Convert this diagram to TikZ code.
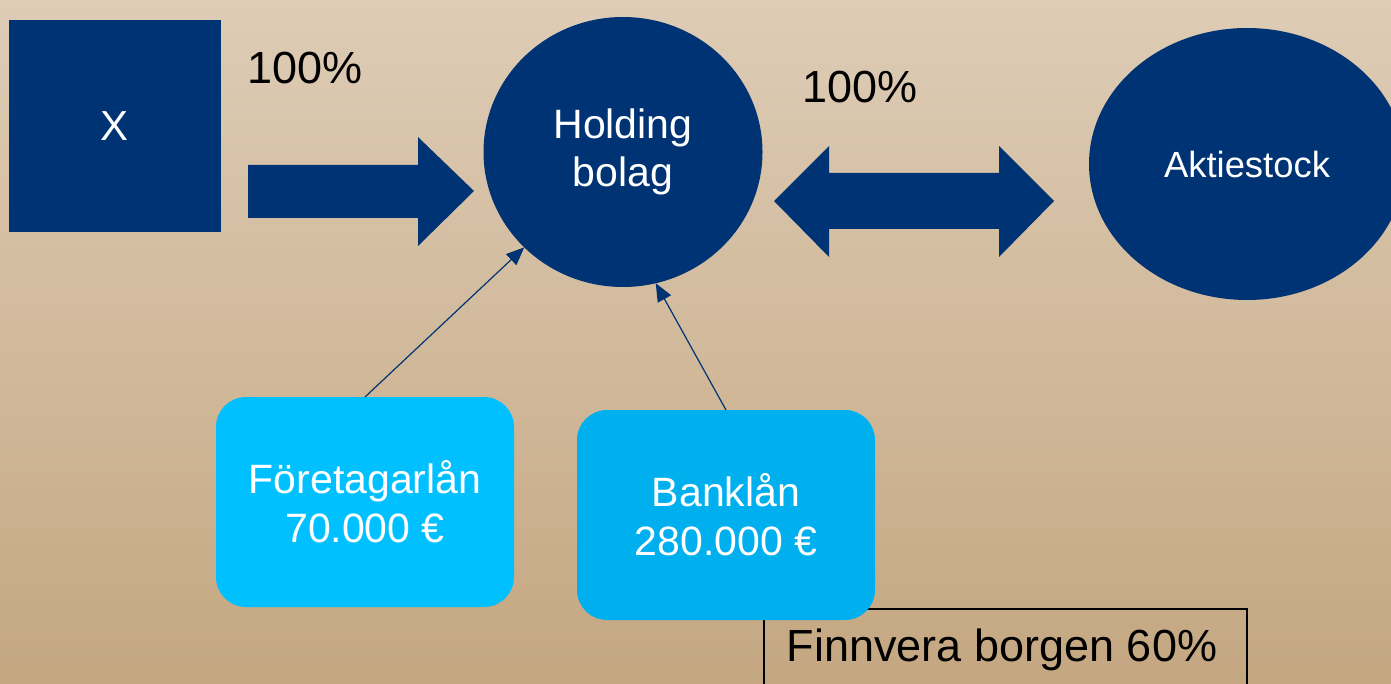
\documentclass[tikz,border=0pt]{standalone}
\usepackage{fontspec}
\setmainfont{Liberation Sans}
\usetikzlibrary{shapes.geometric,arrows.meta}
\definecolor{navy}{RGB}{0,51,116}
\definecolor{bgtop}{RGB}{222,204,182}
\definecolor{bgbot}{RGB}{196,167,129}
\definecolor{lightblue}{RGB}{0,192,255}
\definecolor{midblue}{RGB}{0,175,238}
\tikzset{
  darkshape/.style={fill=navy,draw=none,text=white,inner sep=0pt,outer sep=0pt},
  loanbox/.style={rectangle,rounded corners=15pt,draw=none,text=white,inner sep=0pt,outer sep=0pt,
    minimum width=149pt,minimum height=105pt,align=center,font=\fontsize{20.5}{24.5}\selectfont},
  blockarrow/.style={fill=navy,draw=none},
  thinarrow/.style={draw=navy,line width=0.6pt,-{Triangle[length=9pt,width=7.5pt]}},
  pct/.style={font=\fontsize{22.5}{27}\selectfont,text=black,inner sep=0pt}
}
\begin{document}
\begin{tikzpicture}[x=0.5pt,y=-0.5pt]
\useasboundingbox (0,0) rectangle (1391,684);
\shade[top color=bgtop,bottom color=bgbot] (0,0) rectangle (1391,684);

\node[darkshape,rectangle,minimum width=106pt,minimum height=106pt,font=\fontsize{21}{25}\selectfont] (x) at (115,126) {X};
\node[darkshape,ellipse,minimum width=139.5pt,minimum height=135pt,align=center,font=\fontsize{20.5}{24}\selectfont] (hold) at (623,152) {Holding\\bolag};
\node[darkshape,ellipse,minimum width=158pt,minimum height=136pt,font=\fontsize{18.2}{21}\selectfont] (akt) at (1247,164) {Aktiestock};

\node[pct] (p1) at (305,68) {100\%};
\node[pct] (p2) at (860,87) {100\%};

\path[blockarrow] (248,165) -- (418,165) -- (418,137) -- (474,191) -- (418,246) -- (418,218) -- (248,218) -- cycle;
\path[blockarrow] (774,201) -- (829,146) -- (829,173) -- (999,173) -- (999,146) -- (1054,201) -- (999,257) -- (999,229) -- (829,229) -- (829,257) -- cycle;

\node[rectangle,draw=black,line width=0.8pt,minimum width=241.5pt,minimum height=50pt,inner sep=0pt,anchor=north west] (fin) at (763,608) {};
\node[font=\fontsize{22.5}{27}\selectfont,inner sep=0pt] (fintext) at (1002,650) {Finnvera borgen 60\%};

\node[loanbox,fill=lightblue] (f) at (365,502) {Företagarlån\\70.000 €};
\node[loanbox,fill=midblue] (b) at (726,515) {Banklån\\280.000 €};

\draw[thinarrow] (f.north) -- (hold.224);
\draw[thinarrow] (b.north) -- (hold.284);
\end{tikzpicture}
\end{document}
